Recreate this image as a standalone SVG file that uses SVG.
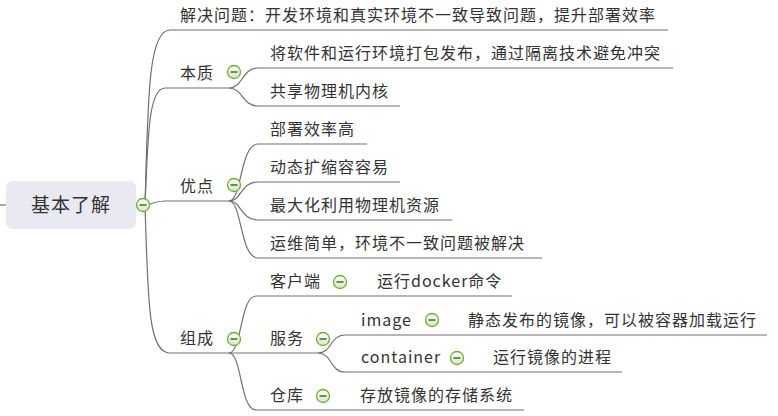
<svg xmlns="http://www.w3.org/2000/svg" width="778" height="416" viewBox="0 0 778 416">
<defs>
<linearGradient id="cg" x1="0" y1="0" x2="0" y2="1">
<stop offset="0" stop-color="#ffffff"/>
<stop offset="1" stop-color="#d6e6c8"/>
</linearGradient>
<g id="col">
<circle cx="0" cy="0" r="6.5" fill="url(#cg)" stroke="#6fae35" stroke-width="1.3"/>
<line x1="-3.5" y1="0" x2="3.5" y2="0" stroke="#3f6e22" stroke-width="1.5"/>
</g>
</defs>
<style>
.t{font-family:"Noto Sans CJK SC","Microsoft YaHei",sans-serif;font-size:16px;letter-spacing:1px;fill:#333}
.r{font-family:"Noto Sans CJK SC","Microsoft YaHei",sans-serif;font-size:19px;letter-spacing:1px;fill:#333}
.c{fill:none;stroke:#707070;stroke-width:1.2}
</style>
<rect width="778" height="416" fill="#ffffff"/>
<g id="connectors">
<path class="c" d="M0,205 L6,205"/>
<path class="c" d="M145,205 C148,100 148,30 170,30 L668,30"/>
<path class="c" d="M145,205 C148,140 148,88 165,88 L229,88"/>
<path class="c" d="M145,205 C152,205 152,201 165,201 L229,201"/>
<path class="c" d="M145,205 C148,300 148,353 170,353 L318,353"/>
<path class="c" d="M229,88 C243,88 242,68 258,68 L673,68"/>
<path class="c" d="M229,88 C243,88 242,106 258,106 L400,106"/>
<path class="c" d="M229,201 C242,201 240,144 258,144 L367,144"/>
<path class="c" d="M229,201 C242,201 240,182 258,182 L400,182"/>
<path class="c" d="M229,201 C242,201 240,220 258,220 L452,220"/>
<path class="c" d="M229,201 C242,201 240,258 258,258 L542,258"/>
<path class="c" d="M229,353 C242,353 240,296 256,296 L512,296"/>
<path class="c" d="M229,353 C242,353 240,410 256,410 L524,410"/>
<path class="c" d="M318,353 C332,353 330,335 345,335 L767,335"/>
<path class="c" d="M318,353 C332,353 330,372 345,372 L622,372"/>
</g>
<g id="root">
<rect x="6" y="181" width="130" height="48" rx="6" fill="#e8e9f1"/>
<text class="r" x="71" y="212" text-anchor="middle">基本了解</text>
<use href="#col" x="143" y="205"/>
</g>
<g id="n-jjwt"><text class="t" x="180" y="21">解决问题：开发环境和真实环境不一致导致问题，提升部署效率</text></g>
<g id="n-bz"><text class="t" x="180" y="79">本质</text><use href="#col" x="234" y="72"/></g>
<g id="n-bz1"><text class="t" x="270" y="59">将软件和运行环境打包发布，通过隔离技术避免冲突</text></g>
<g id="n-bz2"><text class="t" x="270" y="97">共享物理机内核</text></g>
<g id="n-yd"><text class="t" x="180" y="192">优点</text><use href="#col" x="234" y="185"/></g>
<g id="n-yd1"><text class="t" x="270" y="135">部署效率高</text></g>
<g id="n-yd2"><text class="t" x="270" y="173">动态扩缩容容易</text></g>
<g id="n-yd3"><text class="t" x="270" y="211">最大化利用物理机资源</text></g>
<g id="n-yd4"><text class="t" x="270" y="249">运维简单，环境不一致问题被解决</text></g>
<g id="n-zc"><text class="t" x="180" y="344">组成</text><use href="#col" x="234" y="339"/></g>
<g id="n-khd"><text class="t" x="270" y="287">客户端</text><use href="#col" x="340" y="282"/></g>
<g id="n-khd1"><text class="t" x="377" y="287">运行docker命令</text></g>
<g id="n-fw"><text class="t" x="270" y="344">服务</text><use href="#col" x="323" y="339"/></g>
<g id="n-img"><text class="t" x="361" y="326">image</text><use href="#col" x="432" y="320"/></g>
<g id="n-img1"><text class="t" x="468" y="326">静态发布的镜像，可以被容器加载运行</text></g>
<g id="n-ctn"><text class="t" x="361" y="363">container</text><use href="#col" x="457" y="358"/></g>
<g id="n-ctn1"><text class="t" x="493" y="363">运行镜像的进程</text></g>
<g id="n-ck"><text class="t" x="270" y="401">仓库</text><use href="#col" x="323" y="396"/></g>
<g id="n-ck1"><text class="t" x="360" y="401">存放镜像的存储系统</text></g>
</svg>
